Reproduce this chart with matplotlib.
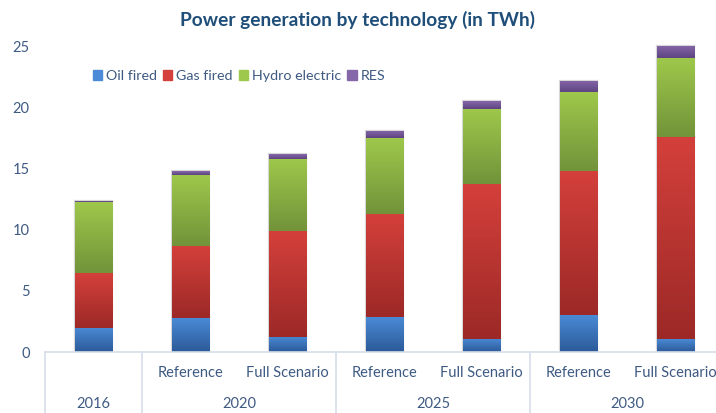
import numpy as np
import matplotlib
matplotlib.use('Agg')
import matplotlib.pyplot as plt
import matplotlib.patches as mpatches
from matplotlib.colors import LinearSegmentedColormap

plt.rcParams['font.family'] = ['Lato', 'DejaVu Sans']

# stacked generation per scenario (TWh)
scenarios = ['', 'Reference', 'Full Scenario', 'Reference', 'Full Scenario', 'Reference', 'Full Scenario']
years = ['2016', '2020', '2025', '2030']
year_span = [(0, 0), (1, 2), (3, 4), (5, 6)]

oil_fired = [2.0, 2.75, 1.25, 2.85, 1.1, 3.0, 1.05]
gas_fired = [4.45, 5.9, 8.65, 8.4, 12.6, 11.8, 16.55]
hydro_electric = [5.8, 5.85, 5.9, 6.2, 6.2, 6.45, 6.45]
res = [0.1, 0.3, 0.35, 0.6, 0.6, 0.9, 1.0]

series = [('Oil fired', oil_fired, '#4a8ad6', '#2c5a98'),
          ('Gas fired', gas_fired, '#d4403b', '#9c2927'),
          ('Hydro electric', hydro_electric, '#9ec84b', '#72933a'),
          ('RES', res, '#8667aa', '#5e4480')]

text_col = '#3e5a82'
line_col = '#d6dee9'
width = 0.39

fig = plt.figure(figsize=(7.16, 4.13), dpi=100)
ax = fig.add_axes([45/716, 61/413, 671/716, 312/413])

x = np.arange(len(scenarios))
grad = np.linspace(1, 0, 256).reshape(-1, 1)

# soft outline behind each full stack
totals = np.sum([s[1] for s in series], axis=0)
ax.bar(x, totals, width=width, color='none', edgecolor='#d8d8d8', linewidth=1.6, zorder=1)

bottom = np.zeros(len(x))
handles = []
for name, vals, top_c, bot_c in series:
    cmap = LinearSegmentedColormap.from_list(name, [bot_c, top_c])
    bars = ax.bar(x, vals, width=width, bottom=bottom, color='none', linewidth=0, zorder=2)
    for b in bars:
        x0, y0 = b.get_x(), b.get_y()
        im = ax.imshow(grad, cmap=cmap, aspect='auto', zorder=2,
                       extent=[x0, x0 + b.get_width(), y0, y0 + b.get_height()],
                       vmin=0, vmax=1)
        im.set_clip_path(b)
    bottom += np.array(vals)
    handles.append(mpatches.Patch(color=top_c, label=name))

ax.set_xlim(-0.5, -0.5 + 671/97)
ax.set_ylim(0, 25.5)
ax.set_yticks([0, 5, 10, 15, 20, 25])
ax.tick_params(axis='y', length=0, labelsize=10.5, labelcolor=text_col, pad=11)
ax.set_xticks([])
for sp in ['top', 'right', 'left']:
    ax.spines[sp].set_visible(False)
ax.spines['bottom'].set_color(line_col)
ax.spines['bottom'].set_linewidth(1.2)

# two-level category axis
tr = ax.get_xaxis_transform()
depth = -61/312
for b in [-0.5, 0.5, 2.5, 4.5]:
    ax.plot([b, b], [0, depth], transform=tr, color=line_col, lw=1.2, clip_on=False)
for i, lab in enumerate(scenarios):
    if lab:
        ax.text(i, -21/312, lab, transform=tr, ha='center', va='center',
                fontsize=10.5, color=text_col)
for yr, (a, b) in zip(years, year_span):
    ax.text((a + b) / 2, -52/312, yr, transform=tr, ha='center', va='center',
            fontsize=10.5, color=text_col)

ax.legend(handles=handles, loc='upper left', bbox_to_anchor=(0.052, 0.945), ncol=4,
          frameon=False, fontsize=10.3, handlelength=0.65, handleheight=0.65,
          handletextpad=0.25, columnspacing=0.45, labelcolor=text_col)

fig.text(0.5, 0.952, 'Power generation by technology (in TWh)', ha='center', va='center',
         fontsize=13.8, fontweight='bold', color='#1f4e79')

fig.savefig('out.png', dpi=100)
